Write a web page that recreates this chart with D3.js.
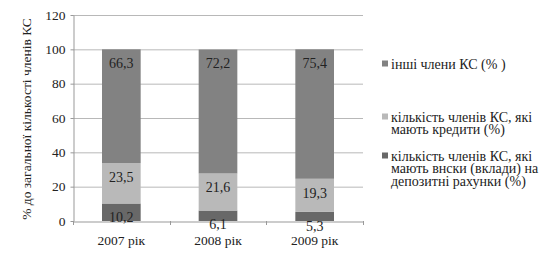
<!DOCTYPE html>
<html><head><meta charset="utf-8">
<script src="https://cdn.jsdelivr.net/npm/d3@7"></script>
<style>body{margin:0;background:#fff}svg{display:block}</style>
</head><body>
<svg id="c" width="548" height="263"></svg>
<script>
const categories = ["2007 рік", "2008 рік", "2009 рік"];
const deposits = [10.2, 6.1, 5.3];
const credits = [23.5, 21.6, 19.3];
const others = [66.3, 72.2, 75.4];
const yTicks = [0, 20, 40, 60, 80, 100, 120];
const yTitle = "% до загальної кількості членів КС";

const colors = ["#686868", "#b9b9b9", "#828282"];
const FF = '"Liberation Serif"';
const svg = d3.select("#c");
const m = {l: 73, r: 363, t: 15, b: 221};
const x = d3.scaleBand().domain(categories).range([m.l, m.r]).paddingInner(0.6).paddingOuter(0.3);
const y = d3.scaleLinear().domain([0, 120]).range([m.b, m.t]);

// gridlines
svg.append("g").selectAll("line").data(yTicks.filter(d => d > 0)).join("line")
  .attr("x1", m.l).attr("x2", m.r).attr("y1", d => y(d) + 0.5).attr("y2", d => y(d) + 0.5)
  .attr("stroke", "#b8b8b8").attr("stroke-width", 1);

const data = categories.map((c, i) => ({cat: c, v: [deposits[i], credits[i], others[i]]}));
const stack = [];
data.forEach(d => {
  let acc = 0;
  d.v.forEach((v, k) => { stack.push({cat: d.cat, k, y0: acc, y1: acc + v, v}); acc += v; });
});

svg.append("g").selectAll("rect").data(stack).join("rect")
  .attr("x", d => x(d.cat)).attr("width", x.bandwidth())
  .attr("y", d => y(d.y1)).attr("height", d => y(d.y0) - y(d.y1))
  .attr("fill", d => colors[d.k]);

// axes
const yAxis = d3.axisLeft(y).tickValues(yTicks).tickSize(3).tickSizeOuter(0);
const gy = svg.append("g").attr("transform", `translate(${m.l + 0.5},0)`).call(yAxis);
gy.select(".domain").attr("stroke", "#999");
gy.selectAll(".tick line").attr("stroke", "#999");
gy.selectAll(".tick text").style("font-family", FF).style("font-size", "13.5px").attr("fill", "#222").attr("x", -8);

const xAxis = d3.axisBottom(x).tickSize(0).tickSizeOuter(0);
const gx = svg.append("g").attr("transform", `translate(0,${m.b + 0.5})`).call(xAxis);
gx.select(".domain").attr("stroke", "#999");
gx.selectAll(".tick text").style("font-family", FF).style("font-size", "13.5px").attr("fill", "#222").attr("dy", 0).attr("y", 23);
// category boundary ticks
svg.append("g").selectAll("line").data(d3.range(categories.length + 1)).join("line")
  .attr("x1", i => Math.round(m.l + (m.r - m.l) * i / categories.length) + 0.5)
  .attr("x2", i => Math.round(m.l + (m.r - m.l) * i / categories.length) + 0.5)
  .attr("y1", m.b).attr("y2", m.b + 4).attr("stroke", "#999");

// labels
svg.append("g").selectAll("text").data(stack).join("text")
  .attr("x", d => x(d.cat) + x.bandwidth() / 2).attr("y", d => y(d.y1) + 14)
  .attr("dy", "0.35em").attr("text-anchor", "middle")
  .style("font-family", FF).style("font-size", "14px").attr("fill", "#222")
  .text(d => d3.format(".1f")(d.v).replace(".", ","));

// y title
svg.append("text").attr("transform", "translate(26,119) rotate(-90)")
  .attr("text-anchor", "middle").attr("dy", "0.35em")
  .style("font-family", FF).style("font-size", "13.5px").attr("fill", "#222").text(yTitle);

// legend
const legend = [
  {k: 2, lines: ["інші члени КС (% )"], y: 64},
  {k: 1, lines: ["кількість членів КС, які", "мають кредити (%)"], y: 117},
  {k: 0, lines: ["кількість членів КС, які", "мають внски (вклади) на", "депозитні рахунки (%)"], y: 156}
];
const lg = svg.append("g");
legend.forEach(L => {
  lg.append("rect").attr("x", 382).attr("y", L.y - 3.5).attr("width", 6).attr("height", 6).attr("fill", colors[L.k]);
  const t = lg.append("text").attr("x", 391).attr("y", L.y)
    .style("font-family", FF).style("font-size", "14px").attr("fill", "#222");
  L.lines.forEach((s, j) => {
    t.append("tspan").attr("x", 391).attr("y", L.y + j * 12.4).attr("dy", "0.35em").text(s);
  });
});
</script>
</body></html>
